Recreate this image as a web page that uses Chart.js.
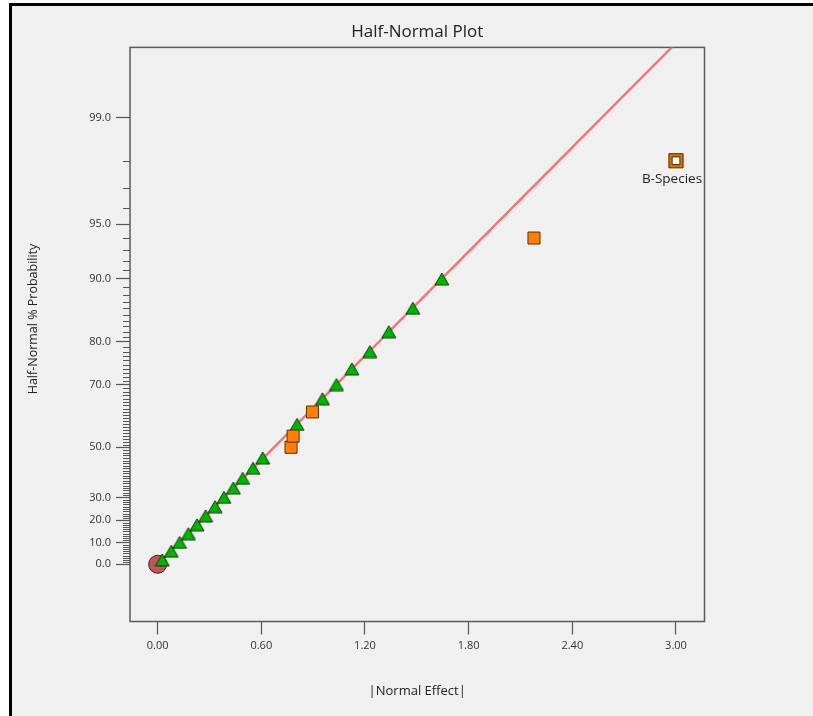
<!DOCTYPE html>
<html>
<head>
<meta charset="utf-8">
<title>Half-Normal Plot</title>
<script src="https://cdn.jsdelivr.net/npm/chart.js@4.4.1/dist/chart.umd.min.js"></script>
<style>
  html, body { margin: 0; padding: 0; background: #fff; overflow: hidden; }
  #frame { position: absolute; left: 9px; top: 3px; width: 830px; height: 730px;
           border-left: 3px solid #000; border-top: 3px solid #000; background: #f0f0f0; }
  #wrap { position: absolute; left: 0; top: 0; width: 813px; height: 716px; }
</style>
</head>
<body>
<div id="frame"></div>
<div id="wrap"><canvas id="halfNormal" width="813" height="716"></canvas></div>
<script>
// effects (|Normal Effect|) and their half-normal % probability
const triEffect = [0.027, 0.079, 0.127, 0.178, 0.228, 0.278, 0.332, 0.384, 0.438, 0.492,
                   0.552, 0.608, 0.807, 0.954, 1.035, 1.124, 1.228, 1.338, 1.477, 1.645];
const triProb   = [2, 6, 10, 14, 18, 22, 26, 30, 34, 38, 42, 46, 58, 66, 70, 74, 78, 82, 86, 90];

const sqEffect = [0.772, 0.784, 0.896, 2.178];
const sqProb   = [50, 54, 62, 94];

const labelEffect = [3.0];
const labelProb   = [98];
const labelNames  = ['B-Species'];

const zeroEffect = [0];
const zeroProb   = [0];

// fitted line
const lineEffect = [0, 3.1];
const lineProb   = [0, 99.81];

// axes
const xTicks = [0, 0.6, 1.2, 1.8, 2.4, 3.0];
const yMajorProbs = [0, 10, 20, 30, 50, 70, 80, 90, 95, 99];
const yMinorProbs = [];
for (let p = 1; p <= 98; p++) if (!yMajorProbs.includes(p)) yMinorProbs.push(p);

// inverse standard normal (Acklam)
function normInv(p) {
  const a = [-3.969683028665376e+01, 2.209460984245205e+02, -2.759285104469687e+02, 1.383577518672690e+02, -3.066479806614716e+01, 2.506628277459239e+00];
  const b = [-5.447609879822406e+01, 1.615858368580409e+02, -1.556989798598866e+02, 6.680131188771972e+01, -1.328068155288572e+01];
  const c = [-7.784894002430293e-03, -3.223964580411365e-01, -2.400758277161838e+00, -2.549732539343734e+00, 4.374664141464968e+00, 2.938163982698783e+00];
  const d = [7.784695709041462e-03, 3.224671290700398e-01, 2.445134137142996e+00, 3.754408661907416e+00];
  const pl = 0.02425, ph = 1 - pl;
  let q, r;
  if (p < pl) {
    q = Math.sqrt(-2 * Math.log(p));
    return (((((c[0]*q+c[1])*q+c[2])*q+c[3])*q+c[4])*q+c[5]) / ((((d[0]*q+d[1])*q+d[2])*q+d[3])*q+1);
  }
  if (p > ph) {
    q = Math.sqrt(-2 * Math.log(1 - p));
    return -(((((c[0]*q+c[1])*q+c[2])*q+c[3])*q+c[4])*q+c[5]) / ((((d[0]*q+d[1])*q+d[2])*q+d[3])*q+1);
  }
  q = p - 0.5; r = q * q;
  return (((((a[0]*r+a[1])*r+a[2])*r+a[3])*r+a[4])*r+a[5])*q / (((((b[0]*r+b[1])*r+b[2])*r+b[3])*r+b[4])*r+1);
}
// half-normal probability (%) -> axis position
const probToZ = p => normInv(0.5 + p / 200);
const toPoints = (xs, ps) => xs.map((x, i) => ({ x: x, y: probToZ(ps[i]) }));

const FONT = '"Open Sans", "Noto Sans", sans-serif';

// triangle marker centred on its bounding box
function triangleMarker(w, h, fill, stroke) {
  const c = document.createElement('canvas');
  c.width = w + 2;
  c.height = h + 2;
  const g = c.getContext('2d');
  g.beginPath();
  g.moveTo(1 + w / 2, 1);
  g.lineTo(1 + w, 1 + h);
  g.lineTo(1, 1 + h);
  g.closePath();
  g.fillStyle = fill;
  g.fill();
  g.strokeStyle = stroke;
  g.lineWidth = 1;
  g.stroke();
  return c;
}

// box around the plot area
const framePlugin = {
  id: 'frame',
  beforeDatasetsDraw(chart) {
    const { ctx, chartArea: a } = chart;
    ctx.save();
    ctx.strokeStyle = '#5a5a5a';
    ctx.lineWidth = 1.5;
    ctx.strokeRect(a.left, a.top, a.right - a.left, a.bottom - a.top);
    ctx.restore();
  }
};

// short minor ticks on the probability axis + the axis title
const yAxisExtras = {
  id: 'yAxisExtras',
  afterDraw(chart) {
    const { ctx, chartArea: a } = chart;
    const ys = chart.scales.y;
    ctx.save();
    ctx.strokeStyle = '#555';
    ctx.lineWidth = 1;
    yMinorProbs.forEach(p => {
      const y = Math.round(ys.getPixelForValue(probToZ(p))) + 0.5;
      ctx.beginPath();
      ctx.moveTo(a.left - 7, y);
      ctx.lineTo(a.left, y);
      ctx.stroke();
    });
    ctx.translate(33, 319);
    ctx.rotate(-Math.PI / 2);
    ctx.font = '12.5px ' + FONT;
    ctx.fillStyle = '#222';
    ctx.textAlign = 'center';
    ctx.textBaseline = 'middle';
    ctx.fillText('Half-Normal % Probability', 0, 0);
    ctx.restore();
  }
};

// text label under the flagged effect
const pointLabels = {
  id: 'pointLabels',
  afterDatasetsDraw(chart) {
    const { ctx } = chart;
    ctx.save();
    ctx.font = '13.5px ' + FONT;
    ctx.fillStyle = '#222';
    ctx.textAlign = 'center';
    ctx.textBaseline = 'middle';
    labelEffect.forEach((e, i) => {
      const x = chart.scales.x.getPixelForValue(e);
      const y = chart.scales.y.getPixelForValue(probToZ(labelProb[i]));
      ctx.fillText(labelNames[i], x - 4, y + 18);
    });
    ctx.restore();
  }
};

new Chart(document.getElementById('halfNormal'), {
  type: 'scatter',
  data: {
    datasets: [
      {
        type: 'line',
        data: toPoints(lineEffect, lineProb),
        borderColor: 'rgba(242,112,112,0.95)',
        borderWidth: 2.5,
        pointRadius: 0,
        fill: false,
        order: 5
      },
      {
        data: toPoints(zeroEffect, zeroProb),
        pointStyle: 'circle',
        pointRadius: 9,
        backgroundColor: '#bf5555',
        borderColor: '#4a1a1a',
        borderWidth: 1,
        order: 4
      },
      {
        data: toPoints(triEffect, triProb),
        pointStyle: triangleMarker(14, 12, '#00b400', '#0b3a0b'),
        pointRadius: 8,
        order: 3
      },
      {
        data: toPoints(sqEffect, sqProb),
        pointStyle: 'rect',
        pointRadius: 8.5,
        backgroundColor: '#ff8000',
        borderColor: '#5a3000',
        borderWidth: 1,
        order: 2
      },
      {
        data: toPoints(labelEffect, labelProb),
        pointStyle: 'rect',
        pointRadius: 10,
        backgroundColor: '#de7400',
        borderColor: '#4a2800',
        borderWidth: 1,
        order: 1
      },
      {
        data: toPoints(labelEffect, labelProb),
        pointStyle: 'rect',
        pointRadius: 5.5,
        backgroundColor: '#ffffff',
        borderColor: '#4a2800',
        borderWidth: 1,
        order: 0
      }
    ]
  },
  options: {
    responsive: false,
    animation: false,
    events: [],
    layout: { padding: { left: 0, right: 108.5, top: 0, bottom: 0 } },
    plugins: {
      legend: { display: false },
      tooltip: { enabled: false },
      title: {
        display: true,
        fullSize: false,
        text: 'Half-Normal Plot',
        color: '#222',
        font: { family: FONT, size: 17, weight: 'normal' },
        padding: { top: 22, bottom: 5 }
      }
    },
    scales: {
      x: {
        type: 'linear',
        position: 'bottom',
        min: -0.16,
        max: 3.165,
        afterFit: s => { s.height = 94.5; },
        afterBuildTicks: s => { s.ticks = xTicks.map(v => ({ value: v })); },
        ticks: {
          callback: (v, i) => xTicks[i].toFixed(2),
          color: '#333',
          font: { family: FONT, size: 11 },
          padding: 5,
          autoSkip: false,
          maxRotation: 0
        },
        grid: { drawOnChartArea: false, tickLength: 13, tickColor: '#555', tickWidth: 1.2 },
        border: { display: false },
        title: {
          display: true,
          text: '|Normal Effect|',
          color: '#222',
          font: { family: FONT, size: 13 },
          padding: { top: 0, bottom: 17 }
        }
      },
      y: {
        type: 'linear',
        position: 'left',
        min: -0.33,
        max: 2.98,
        afterFit: s => { s.width = 130; },
        afterBuildTicks: s => { s.ticks = yMajorProbs.map(p => ({ value: probToZ(p) })); },
        ticks: {
          callback: (v, i) => yMajorProbs[i].toFixed(1),
          color: '#333',
          font: { family: FONT, size: 11 },
          padding: 5,
          autoSkip: false
        },
        grid: { drawOnChartArea: false, tickLength: 14, tickColor: '#555', tickWidth: 1.2 },
        border: { display: false }
      }
    }
  },
  plugins: [framePlugin, yAxisExtras, pointLabels]
});
</script>
</body>
</html>
